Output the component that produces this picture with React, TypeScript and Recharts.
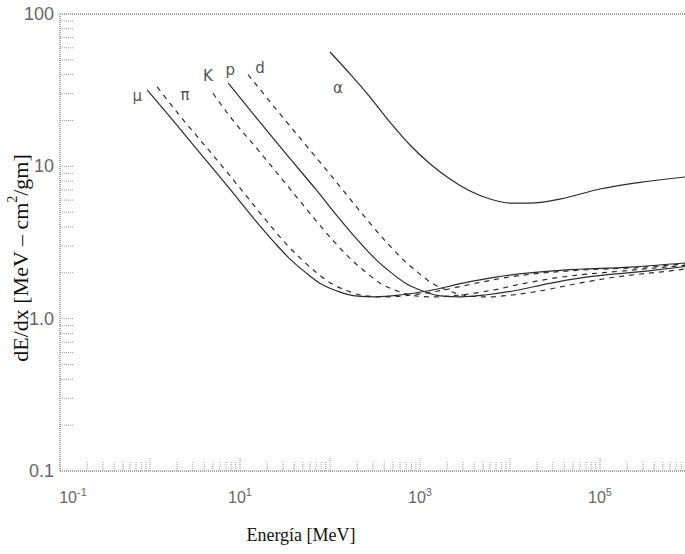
import { LineChart, Line, XAxis, YAxis, ReferenceLine, ReferenceDot } from 'recharts';

// energía cinética [MeV] y dE/dx [MeV cm2/gm]
const MU_E = [0.93, 1.67, 3.6, 7.7, 14.7, 24.5, 36, 53, 77, 120, 190, 316, 600, 1290, 3000, 7200, 39000, 215000, 880000];
const MU_V = [31.7, 21.1, 12.2, 7.1, 4.44, 3.13, 2.46, 2.02, 1.71, 1.52, 1.41, 1.39, 1.43, 1.53, 1.71, 1.88, 2.08, 2.18, 2.32];

const PI_E = [1.2, 2.2, 4.8, 10.2, 19.4, 32, 48, 70, 102, 158, 250, 420, 790, 1700, 4000, 9500, 51000, 280000, 880000];
const PI_V = [33.2, 21.1, 12.2, 7.1, 4.44, 3.13, 2.46, 2.02, 1.71, 1.52, 1.41, 1.39, 1.43, 1.53, 1.7, 1.87, 2.07, 2.17, 2.29];

const K_E = [5.0, 7.8, 17, 36, 69, 115, 170, 250, 360, 560, 890, 1490, 2800, 6100, 14100, 34000, 183000, 880000];
const K_V = [30.2, 21.1, 12.2, 7.1, 4.44, 3.13, 2.46, 2.02, 1.71, 1.52, 1.41, 1.39, 1.43, 1.53, 1.7, 1.86, 2.06, 2.24];

const P_E = [7.4, 14.9, 32, 69, 131, 218, 320, 470, 690, 1070, 1690, 2800, 5300, 11500, 26700, 64000, 347000, 880000];
const P_V = [35.2, 21.1, 12.2, 7.1, 4.44, 3.13, 2.46, 2.02, 1.71, 1.52, 1.41, 1.39, 1.43, 1.53, 1.7, 1.86, 2.06, 2.2];

const D_E = [12.3, 29.6, 64, 136, 260, 434, 640, 940, 1360, 2120, 3360, 5600, 10600, 22800, 53000, 127000, 690000, 880000];
const D_V = [40, 21.1, 12.2, 7.1, 4.44, 3.13, 2.46, 2.02, 1.71, 1.52, 1.41, 1.39, 1.43, 1.53, 1.69, 1.85, 2.08, 2.12];

const ALPHA_E = [100, 167, 278, 464, 774, 1290, 2150, 3590, 5990, 10000, 16700, 35900, 100000, 278000, 880000];
const ALPHA_V = [56.3, 40.4, 28.5, 19.5, 13.8, 10.4, 8.26, 6.89, 6.1, 5.74, 5.74, 6.1, 7.1, 7.85, 8.51];

const X_MAX = 880000;
const X_LABEL_EXP = [-1, 1, 3, 5];
const Y_TICK_TEXT = ['0.1', '1.0', '10', '100'];

const X_TICKS = [-1, 0, 1, 2, 3, 4, 5]
  .flatMap((p) => [1, 2, 3, 4, 5, 6, 7, 8, 9].map((m) => m * 10 ** p))
  .filter((t) => t <= X_MAX);
const Y_TICKS = [-1, 0, 1]
  .flatMap((p) => [1, 2, 3, 4, 5, 6, 7, 8, 9].map((m) => m * 10 ** p))
  .concat([100]);

const SANS = 'Liberation Sans, Arial, sans-serif';
const SERIF = 'Liberation Serif, Times New Roman, serif';

const SERIES = [
  { key: 'mu', label: 'μ', e: MU_E, v: MU_V, dash: undefined, dx: -10, dy: 6 },
  { key: 'pi', label: 'π', e: PI_E, v: PI_V, dash: '5 5', dx: 28, dy: 8 },
  { key: 'k', label: 'K', e: K_E, v: K_V, dash: '5 5', dx: -5, dy: -17 },
  { key: 'p', label: 'p', e: P_E, v: P_V, dash: undefined, dx: 2, dy: -13 },
  { key: 'd', label: 'd', e: D_E, v: D_V, dash: '5 5', dx: 12, dy: -7 },
  { key: 'alpha', label: 'α', e: ALPHA_E, v: ALPHA_V, dash: undefined, dx: 8, dy: 36 },
];

const isDecade = (v: number) => {
  const l = Math.log10(v);
  return Math.abs(l - Math.round(l)) < 1e-6;
};

function XTick(props: any) {
  const { x, y, payload } = props;
  const major = isDecade(payload.value);
  const exp = Math.round(Math.log10(payload.value));
  const showLabel = major && X_LABEL_EXP.includes(exp);
  return (
    <g>
      <line x1={x} x2={x} y1={y} y2={y - (major ? 13 : 9)} stroke="#9a9a9a" strokeDasharray="1 1" />
      {showLabel && (
        <text x={x + (exp === -1 ? 13 : 0)} y={y + 32} textAnchor="middle" fontFamily={SANS} fontSize={16} fill="#666">
          10<tspan dy={-7} fontSize={11}>{exp}</tspan>
        </text>
      )}
    </g>
  );
}

function YTick(props: any) {
  const { x, y, payload } = props;
  const major = isDecade(payload.value);
  const idx = Math.round(Math.log10(payload.value)) + 1;
  return (
    <g>
      <line x1={x} x2={x + 14} y1={y} y2={y} stroke="#9a9a9a" strokeDasharray="1 1" />
      {major && (
        <text x={x - 6} y={y + 6} textAnchor="end" fontFamily={SANS} fontSize={18} fill="#666">
          {Y_TICK_TEXT[idx]}
        </text>
      )}
    </g>
  );
}

export default function App() {
  return (
    <div style={{ position: 'absolute', left: 0, top: 0, background: '#fff' }}>
      <LineChart width={685} height={554} margin={{ top: 14, right: 0, bottom: 0, left: 0 }}>
        <XAxis
          dataKey="e"
          type="number"
          scale="log"
          domain={[0.1, X_MAX]}
          allowDataOverflow
          ticks={X_TICKS}
          interval={0}
          tick={<XTick />}
          tickLine={false}
          tickSize={0}
          tickMargin={0}
          height={83}
          axisLine={{ stroke: '#555', strokeDasharray: '1 1' }}
          label={() => (
            <text x={301} y={541} textAnchor="middle" fontFamily={SERIF} fontSize={18} fill="#111">
              Energía [MeV]
            </text>
          )}
        />
        <YAxis
          dataKey="v"
          type="number"
          scale="log"
          domain={[0.1, 100]}
          allowDataOverflow
          ticks={Y_TICKS}
          interval={0}
          tick={<YTick />}
          tickLine={false}
          tickSize={0}
          tickMargin={0}
          width={60}
          axisLine={{ stroke: '#555', strokeDasharray: '1 1' }}
          label={() => (
            <text
              x={20}
              y={258}
              transform="rotate(-90, 20, 258)"
              textAnchor="middle"
              dominantBaseline="central"
              fontFamily={SERIF}
              fontSize={22}
              fill="#111"
            >
              dE/dx [MeV – cm<tspan dy={-8} fontSize={14}>2</tspan><tspan dy={8}>/gm]</tspan>
            </text>
          )}
        />
        <ReferenceLine y={100} stroke="#555" strokeDasharray="1 1" />
        {SERIES.map((s) => (
          <Line
            key={s.key}
            data={s.e.map((e, i) => ({ e, v: s.v[i] }))}
            dataKey="v"
            type="monotone"
            stroke="#2a2a2a"
            strokeWidth={1.2}
            strokeDasharray={s.dash}
            dot={false}
            isAnimationActive={false}
          />
        ))}
        {SERIES.map((s) => (
          <ReferenceDot
            key={`lbl-${s.key}`}
            x={s.e[0]}
            y={s.v[0]}
            r={0}
            ifOverflow="visible"
            shape={(p: any) => (
              <text
                x={p.cx + s.dx}
                y={p.cy + s.dy}
                textAnchor="middle"
                dominantBaseline="central"
                fontFamily="DejaVu Sans, sans-serif"
                fontSize={15}
                fill="#555"
              >
                {s.label}
              </text>
            )}
          />
        ))}
      </LineChart>
    </div>
  );
}
